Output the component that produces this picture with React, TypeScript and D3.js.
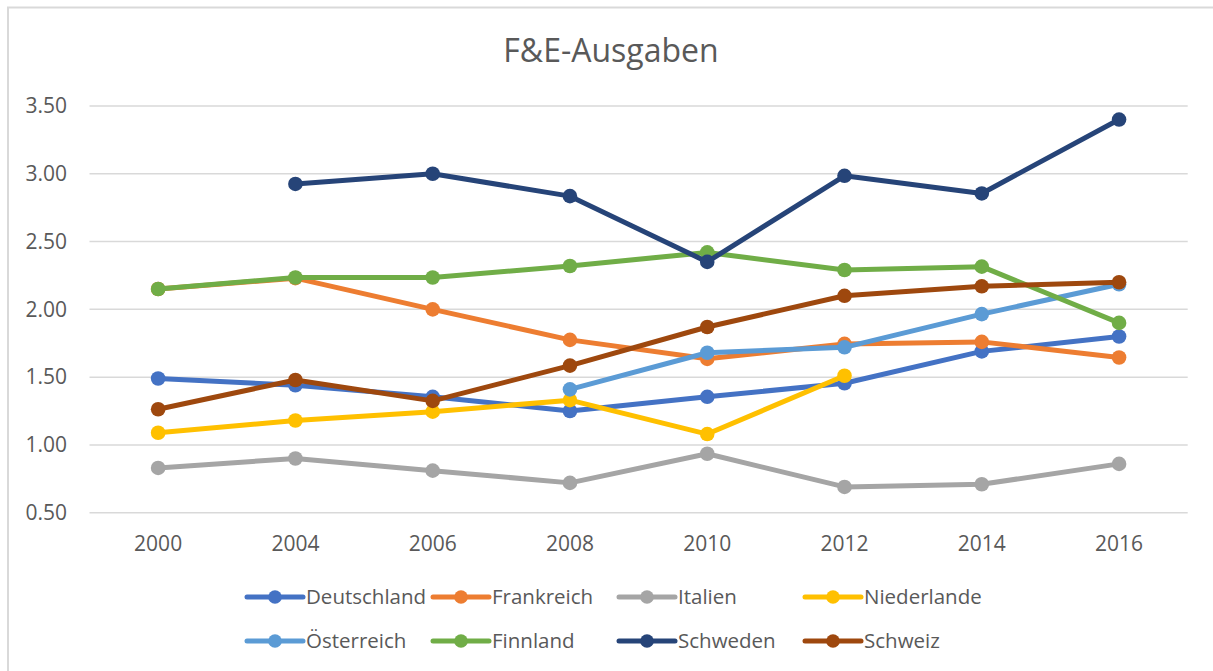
import React from "react";
import * as d3 from "d3";

const years = ["2000", "2004", "2006", "2008", "2010", "2012", "2014", "2016"];
const yTicks = [0.5, 1.0, 1.5, 2.0, 2.5, 3.0, 3.5];

const deutschland = [1.49, 1.44, 1.355, 1.25, 1.355, 1.455, 1.69, 1.8];
const frankreich = [2.15, 2.23, 2.0, 1.775, 1.635, 1.745, 1.76, 1.645];
const italien = [0.83, 0.9, 0.81, 0.72, 0.935, 0.69, 0.71, 0.86];
const niederlande = [1.09, 1.18, 1.245, 1.33, 1.08, 1.51, null, null];
const oesterreich = [null, null, null, 1.41, 1.68, 1.72, 1.965, 2.185];
const finnland = [2.15, 2.235, 2.235, 2.32, 2.42, 2.29, 2.315, 1.9];
const schweden = [null, 2.925, 3.0, 2.835, 2.35, 2.985, 2.855, 3.4];
const schweiz = [1.263, 1.479, 1.325, 1.585, 1.87, 2.1, 2.17, 2.2];

const seriesNames = ["Deutschland", "Frankreich", "Italien", "Niederlande", "Österreich", "Finnland", "Schweden", "Schweiz"];
const seriesColors = ["#4472C4", "#ED7D31", "#A5A5A5", "#FFC000", "#5B9BD5", "#70AD47", "#264478", "#9E480E"];
const seriesValues = [deutschland, frankreich, italien, niederlande, oesterreich, finnland, schweden, schweiz];

const W = 1213;
const H = 671;
const FONT = "'Open Sans', 'Noto Sans', sans-serif";
const TEXT = "#595959";

export default function App() {
  const x = d3.scaleBand<string>().domain(years).range([89.5, 1187.7]);
  const y = d3.scaleLinear().domain([0.5, 3.5]).range([512.7, 106]);
  const cx = (i: number) => (x(years[i]) as number) + x.bandwidth() / 2;

  const line = d3
    .line<[number, number | null]>()
    .defined((d) => d[1] != null)
    .x((d) => cx(d[0]))
    .y((d) => y(d[1] as number));

  const legendCol = [306, 492, 678, 864];
  const legendRow = [597, 641];

  return (
    <svg
      width={W}
      height={H}
      style={{ position: "absolute", left: 0, top: 0, background: "#fff" }}
    >
      <rect x={8} y={7.5} width={1400} height={800} fill="#fff" stroke="#d9d9d9" strokeWidth={2} />
      <text x={611} y={62} textAnchor="middle" fontFamily={FONT} fontSize={32} fill={TEXT}>
        F&amp;E-Ausgaben
      </text>
      {yTicks.map((t) => (
        <g key={t}>
          <line x1={89.5} x2={1187.7} y1={y(t)} y2={y(t)} stroke="#d9d9d9" strokeWidth={1.5} />
          <text
            x={67}
            y={y(t)}
            dy="0.35em"
            textAnchor="end"
            fontFamily={FONT}
            fontSize={21}
            fill={TEXT}
          >
            {t.toFixed(2)}
          </text>
        </g>
      ))}
      {years.map((yr, i) => (
        <text key={yr} x={cx(i)} y={551} textAnchor="middle" fontFamily={FONT} fontSize={21} fill={TEXT}>
          {yr}
        </text>
      ))}
      {seriesValues.map((vals, s) => {
        const pts = vals.map((v, i) => [i, v] as [number, number | null]);
        return (
          <g key={seriesNames[s]}>
            <path d={line(pts) || ""} fill="none" stroke={seriesColors[s]} strokeWidth={5} strokeLinejoin="round" strokeLinecap="round" />
            {pts
              .filter((p) => p[1] != null)
              .map((p) => (
                <circle key={p[0]} cx={cx(p[0])} cy={y(p[1] as number)} r={7.3} fill={seriesColors[s]} />
              ))}
          </g>
        );
      })}
      {seriesNames.map((name, s) => {
        const tx = legendCol[s % 4];
        const ty = legendRow[Math.floor(s / 4)];
        return (
          <g key={name}>
            <line x1={tx - 59} x2={tx - 3} y1={ty} y2={ty} stroke={seriesColors[s]} strokeWidth={5} strokeLinecap="round" />
            <circle cx={tx - 31} cy={ty} r={6.8} fill={seriesColors[s]} />
            <text x={tx} y={ty} dy="0.35em" fontFamily={FONT} fontSize={20.5} fill={TEXT}>
              {name}
            </text>
          </g>
        );
      })}
    </svg>
  );
}
